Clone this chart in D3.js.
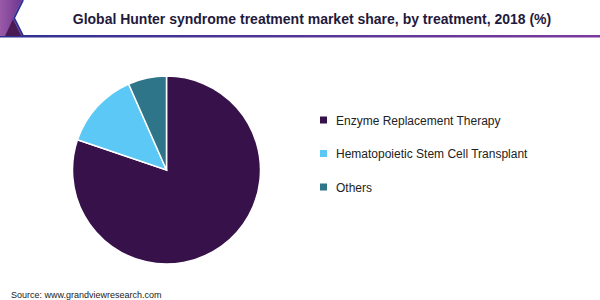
<!DOCTYPE html>
<html>
<head>
<meta charset="utf-8">
<script src="https://cdn.jsdelivr.net/npm/d3@7"></script>
<style>
  body { margin: 0; background: #fff; }
  svg { display: block; font-family: "Liberation Sans", Arial, sans-serif; }
</style>
</head>
<body>
<div id="chart"></div>
<script>
// data
var categories = ["Enzyme Replacement Therapy", "Hematopoietic Stem Cell Transplant", "Others"]
var shares = [80.2, 13.2, 6.6]
var colours = ["#37114a", "#5bc8f5", "#2f7589"]

var w = 600, h = 300

var svg = d3.select("#chart")
  .append("svg")
  .attr("width", w)
  .attr("height", h)

// header: gradient rule + chevron at left
var defs = svg.append("defs")
var grad = defs.append("linearGradient").attr("id", "rule")
grad.append("stop").attr("offset", "0%").attr("stop-color", "#2e3192")
grad.append("stop").attr("offset", "100%").attr("stop-color", "#7b3a9b")

var side = defs.append("linearGradient").attr("id", "side")
  .attr("x1", "0").attr("x2", "1").attr("y1", "0").attr("y2", "0")
side.append("stop").attr("offset", "0%").attr("stop-color", "#9a5aa8")
side.append("stop").attr("offset", "100%").attr("stop-color", "#6e3590")

svg.append("rect")
  .attr("x", 0).attr("y", 35)
  .attr("width", w).attr("height", 2.5)
  .attr("fill", "url(#rule)")

svg.append("path")
  .attr("d", "M0,0 L22,0 L13,18 L22,36 L0,36 Z")
  .attr("fill", "url(#side)")
svg.append("path")
  .attr("d", "M13,19 L21,36 L5,36 Z")
  .attr("fill", "#4a1a55")
svg.append("path")
  .attr("d", "M23,0 L14,18 L23,36")
  .attr("fill", "none")
  .attr("stroke", "#2e3192")
  .attr("stroke-width", 2)

svg.append("text")
  .attr("x", 312)
  .attr("y", 23.5)
  .attr("text-anchor", "middle")
  .attr("font-size", 14)
  .attr("font-weight", "bold")
  .attr("fill", "#1f1a3d")
  .text("Global Hunter syndrome treatment market share, by treatment, 2018 (%)")

// pie
var pie = d3.pie().sort(null)
var arc = d3.arc().innerRadius(0).outerRadius(94)

var pieG = svg.append("g").attr("transform", "translate(166.5,170)")

pieG.selectAll("path")
  .data(pie(shares))
  .enter()
  .append("path")
  .attr("d", arc)
  .attr("fill", function(d, i) { return colours[i] })
  .attr("stroke", "#fff")
  .attr("stroke-width", 1.5)

// legend
var legend = svg.append("g").attr("transform", "translate(320,120)")

var item = legend.selectAll("g")
  .data(categories)
  .enter()
  .append("g")
  .attr("transform", function(d, i) { return "translate(0," + i * 33.5 + ")" })

item.append("rect")
  .attr("x", 0).attr("y", -3.5)
  .attr("width", 7).attr("height", 7)
  .attr("fill", function(d, i) { return colours[i] })

item.append("text")
  .attr("x", 16)
  .attr("y", 4.5)
  .attr("font-size", 12)
  .attr("fill", "#222")
  .text(function(d) { return d })

svg.append("text")
  .attr("x", 11)
  .attr("y", 298)
  .attr("font-size", 9)
  .attr("fill", "#222")
  .text("Source: www.grandviewresearch.com")
</script>
</body>
</html>
